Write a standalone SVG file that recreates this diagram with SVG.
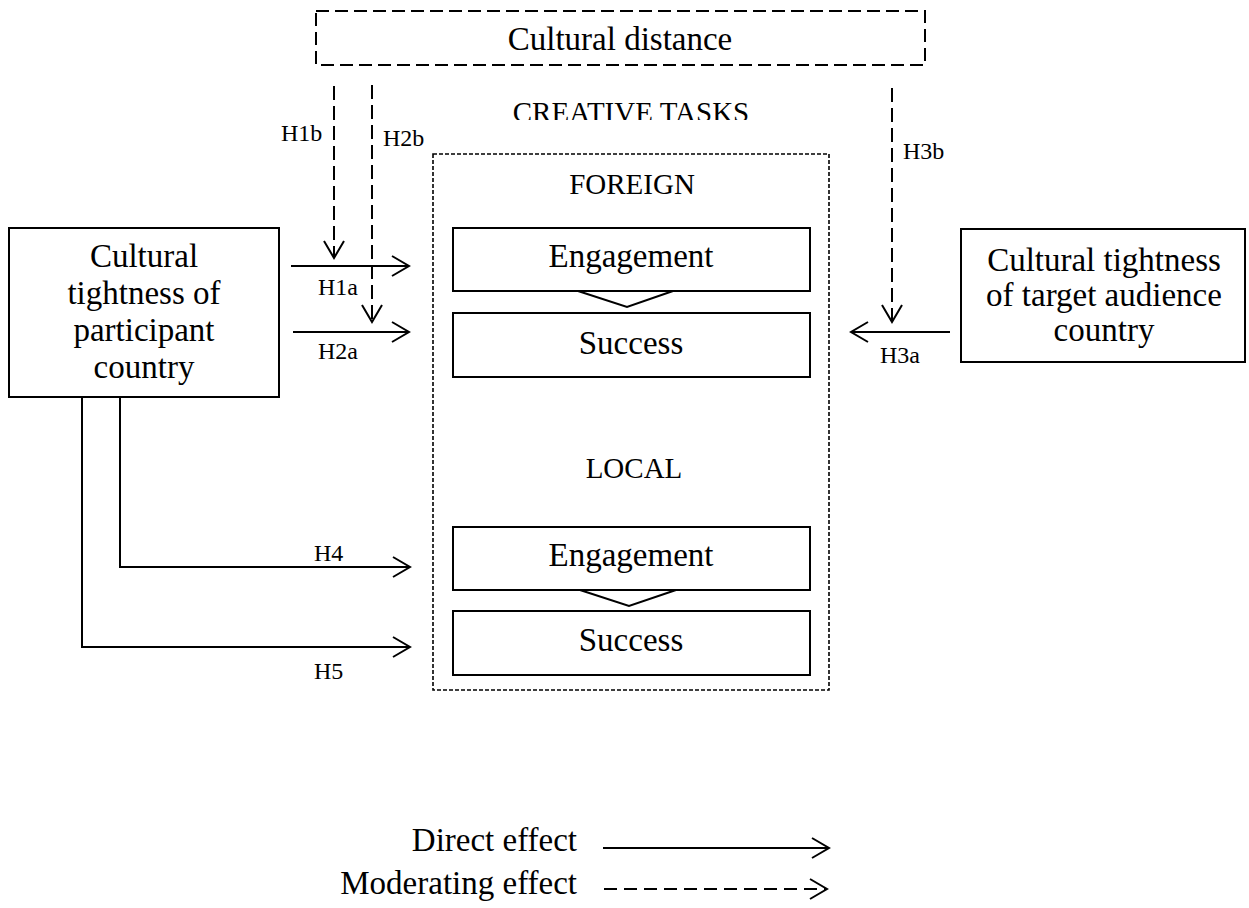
<svg xmlns="http://www.w3.org/2000/svg" width="1249" height="908" viewBox="0 0 1249 908">
<style>
  text { font-family: "Liberation Serif", "Times New Roman", serif; fill: #000; }
  .t { font-size: 33px; text-anchor: middle; }
  .cap { font-size: 29px; text-anchor: middle; }
  .lbl { font-size: 24px; }
  .box { fill: #fff; stroke: #000; stroke-width: 2; }
  .dbox { fill: none; stroke: #000; stroke-width: 2; stroke-dasharray: 13 6; }
  .cont { fill: none; stroke: #000; stroke-width: 1.6; stroke-dasharray: 4 2; }
  .solid { fill: none; stroke: #000; stroke-width: 2; }
  .dash { fill: none; stroke: #000; stroke-width: 2; stroke-dasharray: 14 6; }
</style>
<defs>
  <marker id="arr" markerUnits="userSpaceOnUse" markerWidth="22" markerHeight="24" refX="19" refY="12" orient="auto" viewBox="0 0 22 24">
    <path d="M2,2 L19,12 L2,22" fill="none" stroke="#000" stroke-width="2" stroke-dasharray="none"/>
  </marker>
  <clipPath id="ctclip"><rect x="400" y="80" width="460" height="40"/></clipPath>
</defs>
<rect width="1249" height="908" fill="#fff"/>

<g id="cultural-distance">
  <rect class="dbox" x="316" y="11" width="609" height="54"/>
  <text class="t" x="620" y="50">Cultural distance</text>
</g>

<g id="creative-tasks">
  <rect class="cont" x="433" y="154" width="396" height="536"/>
  <text class="cap" x="631" y="122" clip-path="url(#ctclip)">CREATIVE TASKS</text>
  <text class="cap" x="632" y="194">FOREIGN</text>
  <text class="cap" x="634" y="478">LOCAL</text>
</g>

<g id="foreign-engagement">
  <rect class="box" x="453" y="228" width="357" height="63"/>
  <text class="t" x="631" y="267">Engagement</text>
</g>
<g id="foreign-success">
  <rect class="box" x="453" y="313" width="357" height="64"/>
  <text class="t" x="631" y="354">Success</text>
</g>
<g id="local-engagement">
  <rect class="box" x="453" y="527" width="357" height="63"/>
  <text class="t" x="631" y="566">Engagement</text>
</g>
<g id="local-success">
  <rect class="box" x="453" y="611" width="357" height="64"/>
  <text class="t" x="631" y="651">Success</text>
</g>

<g id="participant-tightness">
  <rect class="box" x="9" y="228" width="270" height="169"/>
  <text class="t" x="144" y="267">Cultural</text>
  <text class="t" x="144" y="304">tightness of</text>
  <text class="t" x="144" y="341">participant</text>
  <text class="t" x="144" y="378">country</text>
</g>

<g id="audience-tightness">
  <rect class="box" x="961" y="229" width="284" height="133"/>
  <text class="t" x="1104" y="271">Cultural tightness</text>
  <text class="t" x="1104" y="306">of target audience</text>
  <text class="t" x="1104" y="341">country</text>
</g>

<g id="connectors">
  <polygon class="solid" points="578,291 627,307 673,291"/>
  <polygon class="solid" points="580,590 629,606 676,590"/>
  <path class="solid" d="M291,266 H409" marker-end="url(#arr)"/>
  <path class="solid" d="M293,332 H409" marker-end="url(#arr)"/>
  <path class="solid" d="M950,332 H851" marker-end="url(#arr)"/>
  <path class="solid" d="M120,397 V567 H410" marker-end="url(#arr)"/>
  <path class="solid" d="M82,397 V647 H410" marker-end="url(#arr)"/>
  <path class="dash" d="M334,86 V258" marker-end="url(#arr)"/>
  <path class="dash" d="M372,85 V322" marker-end="url(#arr)"/>
  <path class="dash" d="M892,88 V322" marker-end="url(#arr)"/>
  <text class="lbl" x="281" y="141">H1b</text>
  <text class="lbl" x="383" y="146">H2b</text>
  <text class="lbl" x="903" y="159">H3b</text>
  <text class="lbl" x="318" y="295">H1a</text>
  <text class="lbl" x="318" y="359">H2a</text>
  <text class="lbl" x="880" y="363">H3a</text>
  <text class="lbl" x="314" y="561">H4</text>
  <text class="lbl" x="314" y="679">H5</text>
</g>

<g id="legend">
  <text class="t" x="577" y="851" style="text-anchor:end">Direct effect</text>
  <text class="t" x="577" y="894" style="text-anchor:end">Moderating effect</text>
  <path class="solid" d="M603,848 H829" marker-end="url(#arr)"/>
  <path class="solid" d="M604,889 H827" style="stroke-dasharray:13 7" marker-end="url(#arr)"/>
</g>
</svg>
